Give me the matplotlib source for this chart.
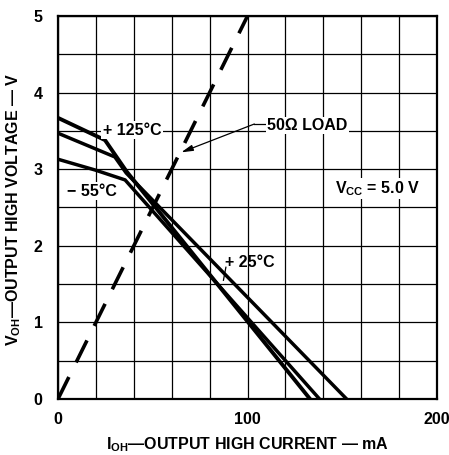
import numpy as np
from matplotlib import pyplot as plt

plt.rcParams['font.family'] = ['Liberation Sans', 'DejaVu Sans']
plt.rcParams['font.weight'] = 'bold'
plt.rcParams['mathtext.fontset'] = 'custom'
plt.rcParams['mathtext.rm'] = 'Liberation Sans:bold'
plt.rcParams['mathtext.it'] = 'Liberation Sans:bold'
plt.rcParams['mathtext.bf'] = 'Liberation Sans:bold'

# output high voltage vs current, three temperatures
i_125 = [0, 24.8, 36.2, 133]
v_125 = [3.67, 3.38, 2.97, 0]
i_25 = [0, 21.3, 30, 36, 152.3]
v_25 = [3.47, 3.25, 3.16, 2.95, 0]
i_m55 = [0, 19.5, 35.4, 138]
v_m55 = [3.13, 2.99, 2.86, 0]

# 50 ohm load line
i_load = [0, 100]
v_load = [0, 5]

x_ticks = [0, 100, 200]
y_ticks = [0, 1, 2, 3, 4, 5]

fig = plt.figure(figsize=(4.49, 4.55), dpi=100)
ax = fig.add_axes([58/449, 56/455, 379/449, 383/455])

ax.set_xlim(0, 200)
ax.set_ylim(0, 5)
ax.set_xticks(np.arange(0, 201, 20), minor=True)
ax.set_yticks(np.arange(0, 5.01, 0.5), minor=True)
ax.set_xticks(x_ticks)
ax.set_yticks(y_ticks)
ax.grid(which='both', color='black', lw=0.9)
ax.tick_params(which='both', length=0, labelsize=11.5)
ax.tick_params(axis='x', pad=9)
ax.tick_params(axis='y', pad=11)
for lab in ax.get_xticklabels() + ax.get_yticklabels():
    lab.set_fontweight('bold')
for sp in ax.spines.values():
    sp.set_linewidth(1.6)
ax.set_axisbelow(True)

ax.plot(i_125, v_125, c='black', lw=2.8, solid_joinstyle='miter')
ax.plot(i_25, v_25, c='black', lw=2.5, solid_joinstyle='miter')
ax.plot(i_m55, v_m55, c='black', lw=2.5, solid_joinstyle='miter')
ax.plot(i_load, v_load, c='black', lw=2.6, ls=(0, (6.8, 4.5)), dash_capstyle='butt')

box = dict(facecolor='white', edgecolor='none', pad=1)
ax.text(23.5, 3.51, '+ 125°C', fontsize=11.5, ha='left', va='center', bbox=box)
ax.text(4.6, 2.71, '− 55°C', fontsize=11.5, ha='left', va='center', bbox=box)
ax.text(88, 1.78, '+ 25°C', fontsize=11.5, ha='left', va='center')
ax.plot([88.6, 87.3], [1.72, 1.55], c='black', lw=0.9)
ax.text(146.3, 2.75, r'V$_{CC}$ = 5.0 V', fontsize=11.5, ha='left', va='center', bbox=box)

ax.text(110.5, 3.57, '50Ω LOAD', fontsize=11.5, ha='left', va='center', bbox=box)
ax.plot([103.6, 110.5], [3.59, 3.59], c='black', lw=0.9)
ax.annotate('', xy=(65, 3.22), xytext=(103.6, 3.59),
            arrowprops=dict(arrowstyle='-|>,head_length=0.7,head_width=0.18',
                            color='black', lw=0.9, shrinkA=0, shrinkB=0))

fig.text(247.5/449, 1 - 445/455, r'I$_{OH}$—OUTPUT HIGH CURRENT — mA',
         fontsize=11.5, fontweight='bold', ha='center', va='center')
fig.text(14/449, 1 - 209/455, r'V$_{OH}$—OUTPUT HIGH VOLTAGE — V',
         fontsize=11.5, fontweight='bold', ha='center', va='center', rotation=90)

plt.savefig('out.png', dpi=100)
